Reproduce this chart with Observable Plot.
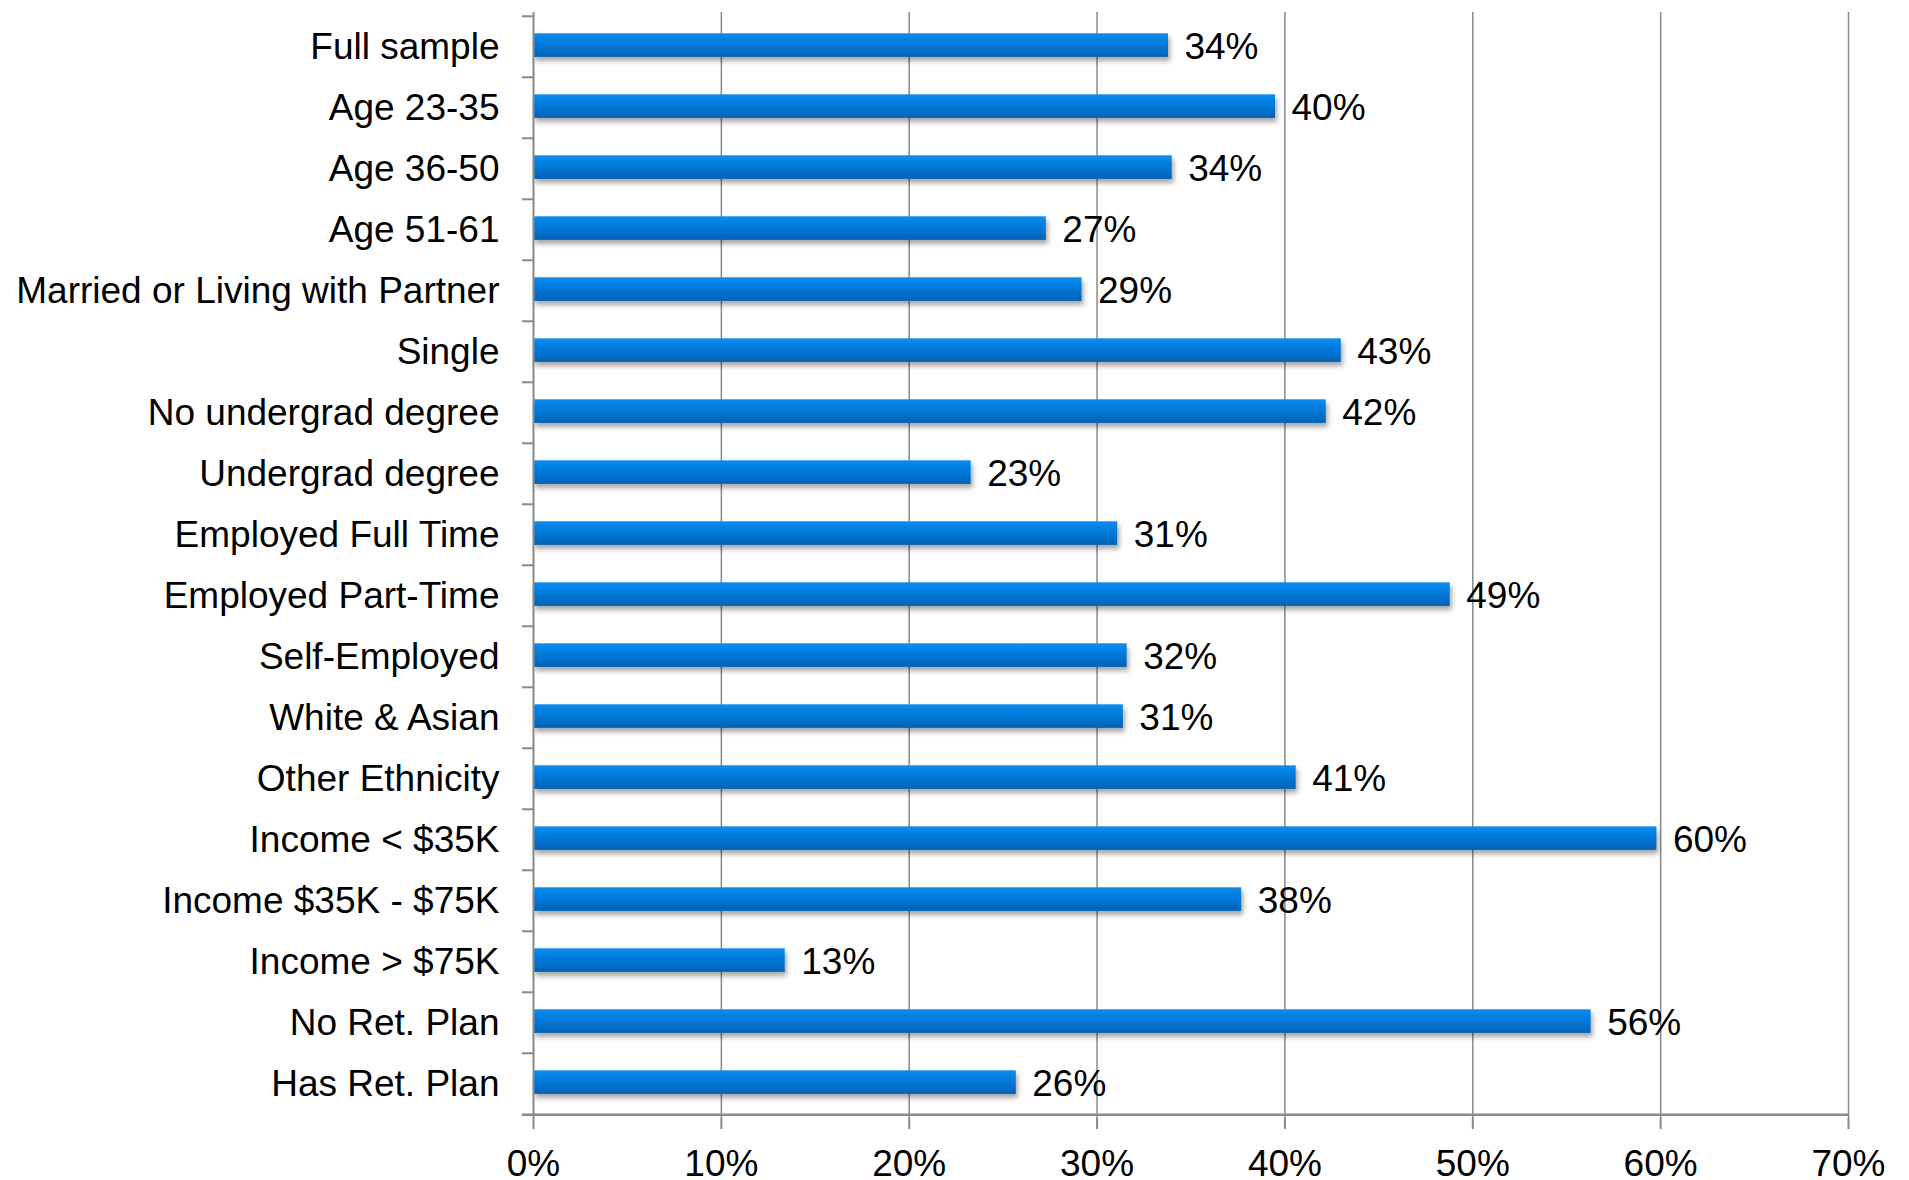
<!DOCTYPE html>
<html>
<head>
<meta charset="utf-8">
<script src="https://cdn.jsdelivr.net/npm/d3@7"></script>
<script src="https://cdn.jsdelivr.net/npm/@observablehq/plot@0.6"></script>
<style>
  html, body { margin: 0; padding: 0; background: #fff; }
  #chart svg { display: block; }
</style>
</head>
<body>
<div id="chart"></div>
<script>
const categories = [
  "Full sample", "Age 23-35", "Age 36-50", "Age 51-61",
  "Married or Living with Partner", "Single", "No undergrad degree",
  "Undergrad degree", "Employed Full Time", "Employed Part-Time",
  "Self-Employed", "White & Asian", "Other Ethnicity", "Income < $35K",
  "Income $35K - $75K", "Income > $75K", "No Ret. Plan", "Has Ret. Plan"
];
const values = [33.8, 39.5, 34.0, 27.3, 29.2, 43.0, 42.2, 23.3, 31.1, 48.8,
                31.6, 31.4, 40.6, 59.8, 37.7, 13.4, 56.3, 25.7];
const valueLabels = ["34%", "40%", "34%", "27%", "29%", "43%", "42%", "23%", "31%", "49%",
                     "32%", "31%", "41%", "60%", "38%", "13%", "56%", "26%"];
const xTicks = [0, 10, 20, 30, 40, 50, 60, 70];

const data = categories.map((c, i) => ({category: c, value: values[i], label: valueLabels[i]}));

const W = 1909, H = 1180;
const mTop = 12, mBottom = 62, mLeft = 533, mRight = 61;
const bw = (H - mTop - mBottom) / categories.length;
const axisColor = "#898989";
const fs = 37;

const svg = Plot.plot({
  width: W,
  height: H,
  marginTop: mTop,
  marginBottom: mBottom,
  marginLeft: mLeft,
  marginRight: mRight,
  style: {fontFamily: "'Liberation Sans', Arial, sans-serif", fontSize: fs + "px", color: "#000", background: "#fff"},
  x: {domain: [0, 70]},
  y: {domain: categories, padding: 0},
  marks: [
    Plot.ruleX(xTicks.filter(d => d > 0), {stroke: axisColor, strokeWidth: 1.5}),
    Plot.barX(data, {y: "category", x: "value", fill: "url(#barGrad)", insetTop: 17.3, insetBottom: 20.1}),
    Plot.text(data, {y: "category", x: "value", text: "label", textAnchor: "start", dx: 16, fontSize: fs, fill: "#000"}),
    Plot.ruleX([0], {stroke: axisColor, strokeWidth: 2}),
    Plot.ruleY(categories, {y: d => d, x1: 0, x2: 0, insetLeft: -11, dy: -bw / 2, stroke: axisColor, strokeWidth: 2}),
    Plot.ruleY([categories[categories.length - 1]], {y: d => d, insetLeft: -11, dy: bw / 2, stroke: axisColor, strokeWidth: 2.5}),
    Plot.axisY({tickSize: 0, tickPadding: 34, fontSize: fs, fill: "#000", label: null}),
    Plot.axisX({ticks: xTicks, tickFormat: d => d + "%", tickSize: 11, tickPadding: 20, stroke: axisColor, strokeWidth: 2, fontSize: fs, fill: "#000", label: null})
  ]
});

// gradient and shadow definitions for the bars
const ns = "http://www.w3.org/2000/svg";
const defs = document.createElementNS(ns, "defs");
defs.innerHTML = `
  <linearGradient id="barGrad" x1="0" y1="0" x2="0" y2="1">
    <stop offset="0" stop-color="#0a8cf0"/>
    <stop offset="0.5" stop-color="#0078d8"/>
    <stop offset="1" stop-color="#0062b4"/>
  </linearGradient>
  <filter id="barShadow" x="-5%" y="-50%" width="110%" height="220%">
    <feDropShadow dx="2" dy="4" stdDeviation="2.5" flood-color="#000" flood-opacity="0.35"/>
  </filter>`;
svg.insertBefore(defs, svg.firstChild);
const barGroup = svg.querySelector('g[aria-label="bar"]');
if (barGroup) barGroup.setAttribute("filter", "url(#barShadow)");

document.getElementById("chart").appendChild(svg);
</script>
</body>
</html>
